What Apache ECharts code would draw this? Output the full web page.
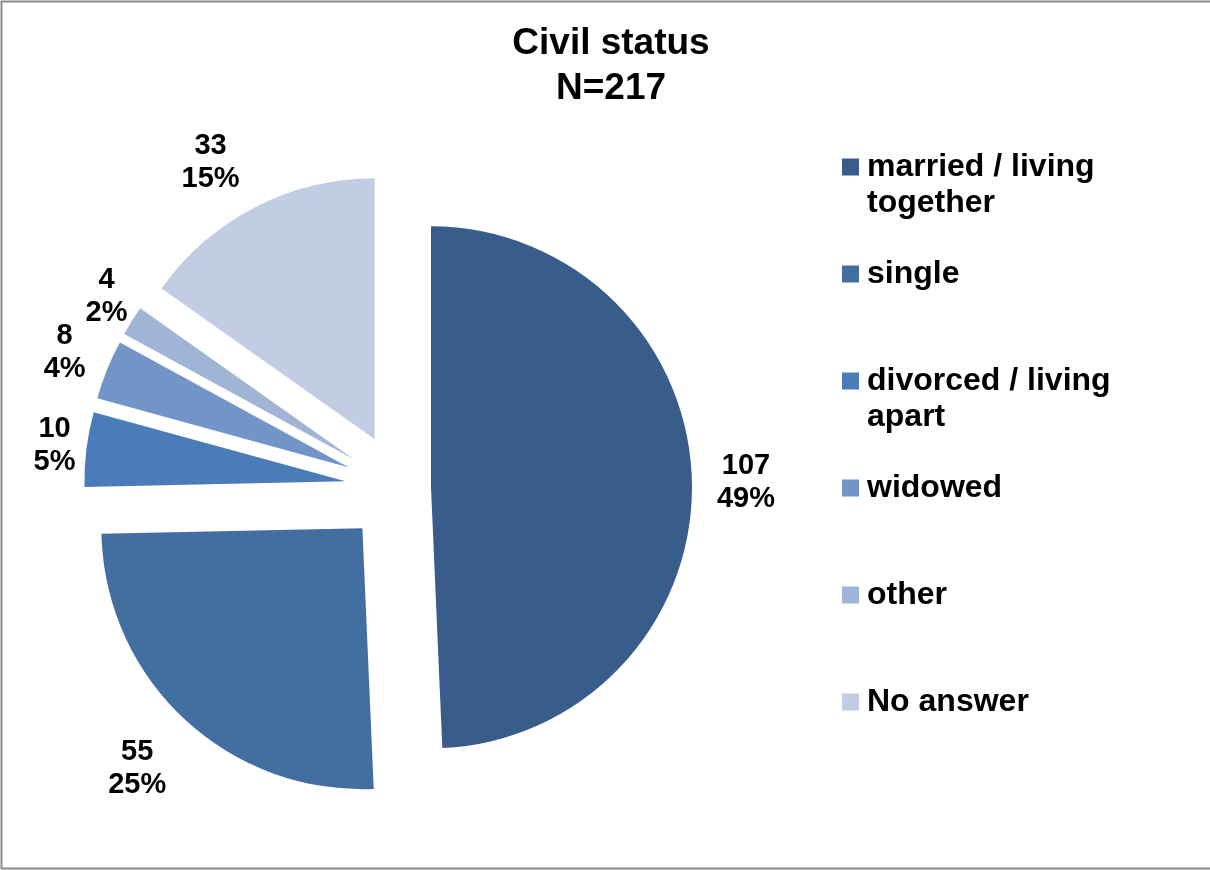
<!DOCTYPE html>
<html>
<head>
<meta charset="utf-8">
<script src="https://cdn.jsdelivr.net/npm/echarts@6/dist/echarts.min.js"></script>
<style>
  html, body { margin: 0; padding: 0; background: #ffffff; }
  #chart { width: 1210px; height: 870px; }
</style>
</head>
<body>
<div id="chart"></div>
<script>
// Civil status of respondents
const categories = ['married / living together', 'single', 'divorced / living apart', 'widowed', 'other', 'No answer'];
const legendLabels = ['married / living\ntogether', 'single', 'divorced / living\napart', 'widowed', 'other', 'No answer'];
const counts = [107, 55, 10, 8, 4, 33];
const colors = ['#385D8A', '#436EA0', '#4A7CB9', '#7394C6', '#A0B4D6', '#C2CDE3'];

const FONT = "'Liberation Sans', Arial, sans-serif";
const total = counts.reduce((a, b) => a + b, 0);

// pie geometry
const CX = 400, CY = 488, R = 261;
const explode = i => (i === 0 ? 31 : 55);        // distance each slice is pulled out
const labelGaps = [25, 26, 11, 23, 11, 24];       // space between slice edge and its label box
const labelNudge = [[0, 2], [0, 0], [0, 0], [0, 0], [5, -5], [-16, 9]]; // small manual label shifts

// middle angle of every slice, clockwise from 12 o'clock
const midAngles = [];
let acc = 0;
counts.forEach(v => { midAngles.push((acc + v / 2) / total * 2 * Math.PI); acc += v; });
const dirOf = i => [Math.sin(midAngles[i]), -Math.cos(midAngles[i])];

const pct = counts.map(v => Math.round(v / total * 100));

// one pie per slice: all values keep the angles, only slice k is painted,
// and its centre is moved out along the slice's middle direction
function slicePie(k) {
  const [dx, dy] = dirOf(k);
  const cx = CX + dx * explode(k), cy = CY + dy * explode(k);
  return {
    type: 'pie',
    center: [cx, cy],
    radius: [0, R],
    startAngle: 90,
    clockwise: true,
    animation: false,
    avoidLabelOverlap: false,
    silent: true,
    emphasis: { disabled: true },
    itemStyle: { borderWidth: 0 },
    label: {
      position: 'outside',
      fontFamily: FONT,
      fontSize: 29,
      fontWeight: 'bold',
      lineHeight: 33,
      color: '#000000',
      formatter: p => counts[p.dataIndex] + '\n' + pct[p.dataIndex] + '%'
    },
    labelLine: { show: false },
    // label box sits on the slice's middle ray, its near edge labelGaps[k] past the arc
    labelLayout: function (params) {
      const hw = params.labelRect.width / 2, hh = params.labelRect.height / 2;
      const tx = Math.abs(dx) > 1e-6 ? hw / Math.abs(dx) : Infinity;
      const ty = Math.abs(dy) > 1e-6 ? hh / Math.abs(dy) : Infinity;
      const d = R + labelGaps[k] + Math.min(tx, ty);
      return {
        x: cx + dx * d + labelNudge[k][0],
        y: cy + dy * d + labelNudge[k][1],
        align: 'center',
        verticalAlign: 'middle'
      };
    },
    data: categories.map((name, i) => ({
      name: name,
      value: counts[i],
      itemStyle: { color: i === k ? colors[i] : 'rgba(0,0,0,0)' },
      label: { show: i === k }
    }))
  };
}

const chart = echarts.init(document.getElementById('chart'), null, { renderer: 'canvas' });
chart.setOption({
  backgroundColor: '#ffffff',
  title: {
    text: 'Civil status\nN=217',
    left: 606,
    textAlign: 'center',
    top: 16,
    textStyle: { fontFamily: FONT, fontSize: 37, fontWeight: 'bold', lineHeight: 45, color: '#000000' }
  },
  legend: {
    orient: 'vertical',
    left: 837,
    top: 108,
    itemWidth: 17,
    itemHeight: 17,
    itemGap: -1,
    icon: 'rect',
    selectedMode: false,
    data: categories.map((name, i) => ({
      name: name,
      itemStyle: { color: colors[i] },
      textStyle: { padding: legendLabels[i].indexOf('\n') >= 0 ? [0, 0, 0, 3] : [36, 0, 36, 3] }
    })),
    // two-line entries get an empty first line so the icon sits beside the first text line
    formatter: name => {
      const t = legendLabels[categories.indexOf(name)];
      return t.indexOf('\n') >= 0 ? ' \n' + t : t;
    },
    textStyle: {
      fontFamily: FONT, fontSize: 32, fontWeight: 'bold', lineHeight: 36,
      color: '#000000', backgroundColor: 'rgba(0,0,0,0)'
    }
  },
  graphic: [{
    type: 'rect',
    silent: true,
    shape: { x: 1.5, y: 1.5, width: 1220, height: 867 },
    style: { fill: 'none', stroke: '#898989', lineWidth: 2 }
  }],
  series: categories.map((_, k) => slicePie(k))
});
</script>
</body>
</html>
